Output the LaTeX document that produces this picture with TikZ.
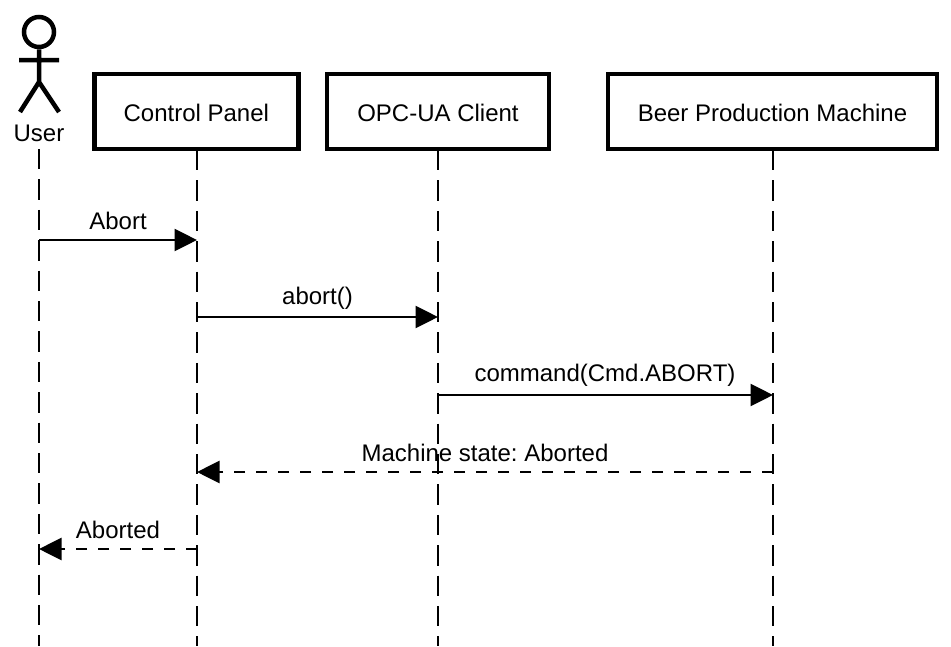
\documentclass[tikz,border=0pt]{standalone}
\usepackage{fontspec}
\setmainfont{Liberation Sans}
\usetikzlibrary{arrows.meta}
\frenchspacing

\tikzset{
  box/.style={draw,line width=4.5pt,minimum height=75pt,text height=19.5pt,text depth=0pt,font=\fontsize{24}{28}\selectfont},
  txt/.style={inner sep=0pt,font=\fontsize{24}{28}\selectfont},
  stick/.style={line width=4.5pt},
  lifeline/.style={line width=2.7pt,dash pattern=on 20.4pt off 10pt},
  msg/.style={line width=2.7pt,-{Triangle[length=22.5pt,width=22pt]}},
  reply/.style={line width=2.7pt,dash pattern=on 11pt off 11pt,-{Triangle[length=22.5pt,width=22pt]}}
}

\begin{document}
\begin{tikzpicture}[x=1pt,y=-1pt]
  \useasboundingbox (0,0) rectangle (951,646);

  \node (CP) at (196.3,111.7) [box,minimum width=204pt] {Control Panel};
  \node (OPC) at (438,111.7) [box,minimum width=222pt] {OPC-UA Client};
  \node (BPM) at (772.5,111.7) [box,minimum width=329pt] {Beer Production Machine};
  \node (U) at (39,133) [txt] {User};

  % actor
  \node (head) at (39,32) [draw,circle,stick,minimum size=30pt,inner sep=0pt] {};
  \coordinate (neck) at (39,82);
  \coordinate (armL) at (19,60);
  \coordinate (armR) at (59,60);
  \coordinate (legL) at (20,112);
  \coordinate (legR) at (59,112);
  \draw[stick] (head) -- (neck) (armL) -- (armR) (legL) -- (neck) -- (legR);

  % lifelines
  \coordinate (Utop) at (39,149);
  \coordinate (Ubot) at (39,646);
  \coordinate (CPbot) at (197,646);
  \coordinate (OPCbot) at (438,646);
  \coordinate (BPMbot) at (773,646);
  \draw[lifeline] (Utop) -- (Ubot);
  \draw[lifeline] (197,150) -- (CPbot);
  \draw[lifeline] (438,150) -- (OPCbot);
  \draw[lifeline] (773,150) -- (BPMbot);

  \coordinate (U1) at (39,240);
  \coordinate (CP1) at (197,240);
  \coordinate (CP2) at (197,317);
  \coordinate (OPC2) at (438,317);
  \coordinate (OPC3) at (438,395);
  \coordinate (BPM3) at (773,395);
  \coordinate (BPM4) at (773,472);
  \coordinate (CP4) at (197,472);
  \coordinate (CP5) at (197,549);
  \coordinate (U5) at (39,549);

  \draw[msg] (U1) to (CP1);
  \draw[msg] (CP2) to (OPC2);
  \draw[msg] (OPC3) to (BPM3);
  \draw[reply] (BPM4) to (CP4);
  \draw[reply] (CP5) to (U5);

  \node (abort) at (118,221) [txt] {Abort};
  \node (abortcall) at (317.5,298) [txt] {abort()};
  \node (cmd) at (605,375) [txt] {command(Cmd.ABORT)};
  \node (state) at (485,453) [txt] {Machine state: Aborted};
  \node (aborted) at (118,530) [txt] {Aborted};
\end{tikzpicture}
\end{document}
